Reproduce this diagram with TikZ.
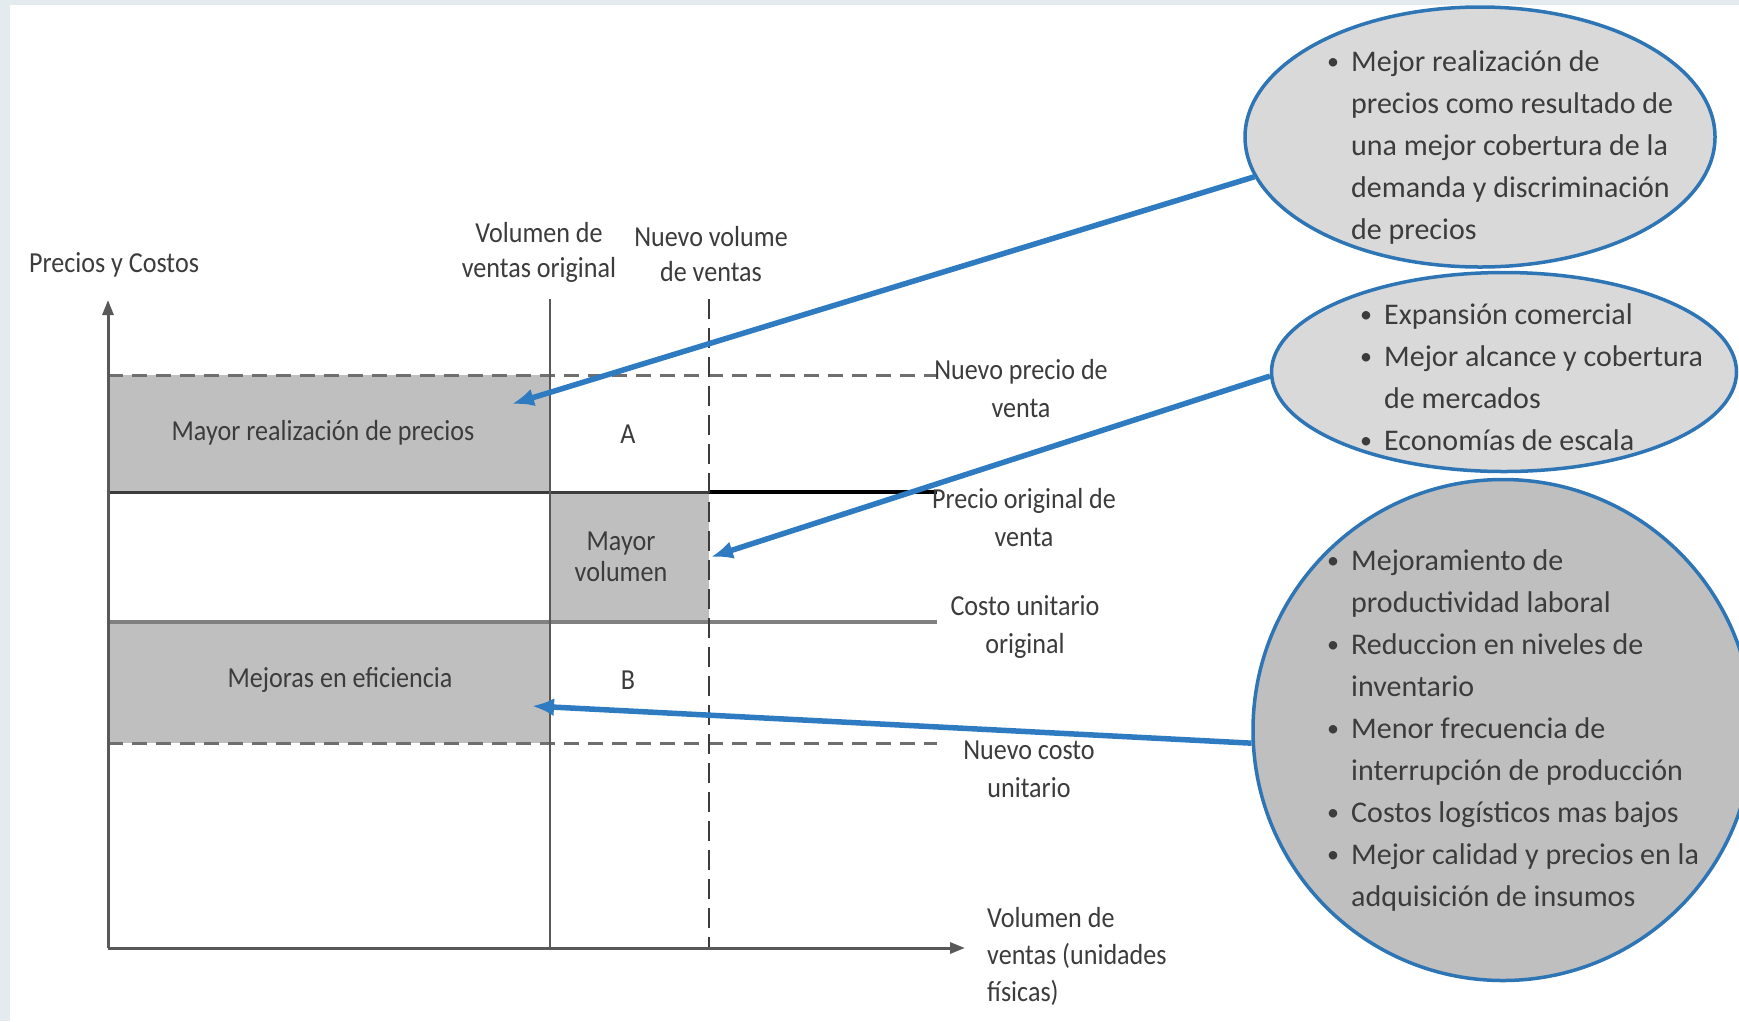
\documentclass[tikz,border=0pt]{standalone}
\usepackage{fontspec}
\setmainfont{Carlito}
\newfontfamily\lblfont[FakeStretch=0.9]{Carlito}
\usetikzlibrary{shapes.geometric,arrows.meta}
\definecolor{bgframe}{HTML}{E3EBEF}
\definecolor{txtgray}{HTML}{3C3C3C}
\definecolor{rectgray}{HTML}{BFBFBF}
\definecolor{ellgray}{HTML}{D9D9D9}
\definecolor{bordblue}{HTML}{2E75B6}
\definecolor{arrblue}{HTML}{2F7BC1}
\definecolor{axisgray}{HTML}{595959}
\definecolor{dashgray}{HTML}{6F6F6F}
\newcommand{\bl}{\makebox[24pt][l]{\raisebox{2pt}{\fontsize{24}{24}\selectfont•}}}
\newcommand{\ind}{\hspace*{24pt}}
\newcommand{\topstrut}{\rule{0pt}{24pt}}
\tikzset{
  lbl/.style={font=\lblfont\fontsize{29}{35}\selectfont, text=txtgray, align=center, inner sep=0pt},
  rlbl/.style={lbl, font=\lblfont\fontsize{29}{38}\selectfont},
  elltext/.style={font=\fontsize{30}{42}\selectfont, text=txtgray, align=left, inner sep=0pt, anchor=north west},
  ellbox/.style={ellipse, draw=bordblue, line width=3.5pt, inner sep=0pt},
  barrow/.style={draw=arrblue, line width=5.5pt, -{Latex[length=22pt,width=18pt]}},
  axisline/.style={draw=axisgray, line width=3pt},
  dashline/.style={draw=dashgray, line width=3pt, dash pattern=on 15pt off 9pt},
  vdash/.style={draw=txtgray, line width=2.5pt, dash pattern=on 20pt off 9pt},
  area/.style={fill=rectgray}
}
\begin{document}
\begin{tikzpicture}[x=1pt,y=-1pt]
\clip (0,0) rectangle (1739,1021);
\fill[bgframe] (0,0) rectangle (1739,1021);
\fill[white] (10,5) rectangle (1739,1021);

% shaded areas
\fill[area] (108,375) rectangle (550,492);
\fill[area] (550,492) rectangle (709,622);
\fill[area] (108,622) rectangle (550,743);

% horizontal levels
\draw[dashline] (108,375) -- (937,375);
\draw[axisline, draw=txtgray] (108,492) -- (709,492);
\draw[line width=3.5pt, draw=black] (709,492) -- (937,492);
\draw[line width=3.5pt, draw=gray] (108,622) -- (937,622);
\draw[dashline] (108,743) -- (937,743);

% vertical volume lines
\draw[line width=2.5pt, draw=axisgray] (550,299) -- (550,948);
\draw[vdash] (709,299) -- (709,948);

% axes
\draw[axisline, -{Triangle[length=15pt,width=11pt]}] (108,948) -- (108,300);
\draw[axisline, -{Triangle[length=15pt,width=11pt]}] (108,948) -- (965,948);

% labels
\node[lbl] (ylab) at (114,265) {Precios y Costos};
\node[lbl] (vorig) at (539,252) {Volumen de\\ventas original};
\node[lbl] (vnuevo) at (711,254) {Nuevo volume\\de ventas};
\node[rlbl] (nprecio) at (1021,389) {Nuevo precio de\\venta};
\node[rlbl] (oprecio) at (1024,518) {Precio original de\\venta};
\node[rlbl] (ocosto) at (1025,627) {Costo unitario\\original};
\node[rlbl] (ncosto) at (1029,769) {Nuevo costo\\unitario};
\node[lbl, align=left, anchor=west, font=\lblfont\fontsize{29}{37}\selectfont] (xlab) at (987,956) {Volumen de\\ventas (unidades\\físicas)};
\node[lbl] (mrp) at (323,433) {Mayor realización de precios};
\node[lbl] (areaA) at (628,434) {A};
\node[lbl, font=\lblfont\fontsize{29}{31}\selectfont] (mvol) at (621,557) {Mayor\\volumen};
\node[lbl] (mef) at (340,680) {Mejoras en eficiencia};
\node[lbl] (areaB) at (628,680) {B};

% ellipses
\node[ellbox, fill=ellgray, minimum width=470pt, minimum height=260pt] (e1) at (1480,137) {};
\node[ellbox, fill=ellgray, minimum width=465pt, minimum height=199pt] (e2) at (1504,372) {};
\node[ellbox, fill=rectgray, minimum width=500pt, minimum height=501pt] (e3) at (1503,730) {};

\node[elltext] (t1) at (1327,47) {\topstrut\bl Mejor realización de\\\ind precios como resultado de\\\ind una mejor cobertura de la\\\ind demanda y discriminación\\\ind de precios};
\node[elltext] (t2) at (1360,300) {\topstrut\bl Expansión comercial\\\bl Mejor alcance y cobertura\\\ind de mercados\\\bl Economías de escala};
\node[elltext] (t3) at (1327,546) {\topstrut\bl Mejoramiento de\\\ind productividad laboral\\\bl Reduccion en niveles de\\\ind inventario\\\bl Menor frecuencia de\\\ind interrupción de producción\\\bl Costos logísticos mas bajos\\\bl Mejor calidad y precios en la\\\ind adquisición de insumos};

% arrows
\coordinate (tip1) at (512,404);
\coordinate (tip2) at (711,557);
\coordinate (tip3) at (532,706);
\draw[barrow] (e1.190) -- (tip1);
\draw[barrow] (e2.181) -- (tip2);
\draw[barrow] (e3.183) -- (tip3);
\end{tikzpicture}
\end{document}
